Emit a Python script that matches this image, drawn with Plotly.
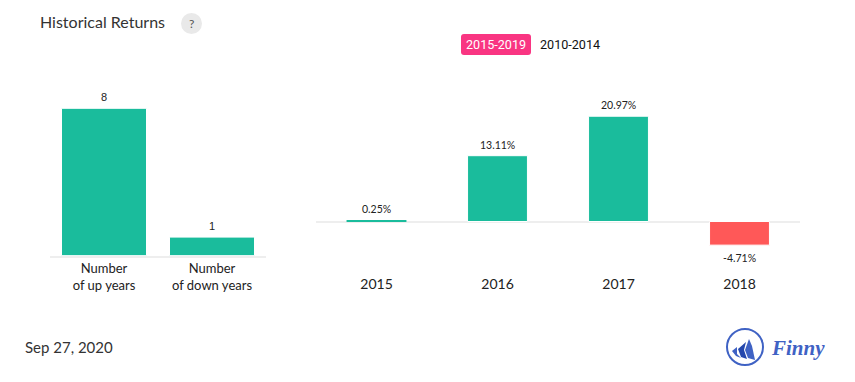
import plotly.graph_objects as go

W, H = 855, 382

count_labels = ["Number<br>of up years", "Number<br>of down years"]
count_values = [8, 1]
count_text = ["8", "1"]
years = ["2015", "2016", "2017", "2018"]
returns = [0.25, 13.11, 20.97, -4.71]
return_text = ["0.25%", "13.11%", "20.97%", "-4.71%"]

GREEN, RED, PINK, BLUE = "#1abc9c", "#ff5858", "#f93582", "#3f62c4"


def X(p):
    return p / W


def Y(p):
    return 1 - p / H


def path(points):
    return "M " + " L ".join(f"{X(a):.5f},{Y(b):.5f}" for a, b in points) + " Z"


def colors(vals):
    return [GREEN if v >= 0 else RED for v in vals]


def bar_note(x, v, t, xref, yref, family):
    return dict(x=x, y=v, xref=xref, yref=yref, text=t, showarrow=False, xanchor="center", yanchor="middle",
                yshift=11 if v >= 0 else -13, font=dict(family=family, size=10.5 if family == "Lato" else 11, color="#222"))


fig = go.Figure()
fig.add_bar(x=count_labels, y=count_values, xaxis="x", yaxis="y",
            marker=dict(color=colors(count_values), line=dict(width=1, color="#fff")),
            cliponaxis=False, width=0.787, hoverinfo="skip")
fig.add_bar(x=years, y=returns, xaxis="x2", yaxis="y2",
            marker=dict(color=colors(returns), line=dict(width=[0, 1, 1, 1], color="#fff")),
            cliponaxis=False, width=0.495, hoverinfo="skip")

shapes = [
    dict(type="circle", xref="paper", yref="paper", x0=X(181), x1=X(202), y0=Y(34), y1=Y(13),
         fillcolor="#e9e9e9", line=dict(width=0)),
    dict(type="path", xref="paper", yref="paper",
         path=f"M {X(464):.5f},{Y(34):.5f} L {X(528):.5f},{Y(34):.5f} Q {X(531):.5f},{Y(34):.5f} {X(531):.5f},{Y(37):.5f} "
              f"L {X(531):.5f},{Y(52):.5f} Q {X(531):.5f},{Y(55):.5f} {X(528):.5f},{Y(55):.5f} "
              f"L {X(464):.5f},{Y(55):.5f} Q {X(461):.5f},{Y(55):.5f} {X(461):.5f},{Y(52):.5f} "
              f"L {X(461):.5f},{Y(37):.5f} Q {X(461):.5f},{Y(34):.5f} {X(464):.5f},{Y(34):.5f} Z",
         fillcolor=PINK, line=dict(width=0)),
    dict(type="circle", xref="paper", yref="paper", x0=X(727), x1=X(763), y0=Y(365), y1=Y(329),
         line=dict(color=BLUE, width=2)),
    dict(type="path", xref="paper", yref="paper", path=path([(732, 351), (737, 347), (737, 354), (741, 358), (736, 356)]),
         fillcolor=BLUE, line=dict(width=0)),
    dict(type="path", xref="paper", yref="paper", path=path([(738, 349), (746, 342), (744, 350), (747, 359), (741, 357)]),
         fillcolor="#2447ad", line=dict(width=0)),
    dict(type="path", xref="paper", yref="paper", path=path([(749, 339), (752, 346), (755, 360), (748, 358), (745, 350)]),
         fillcolor=BLUE, line=dict(width=0)),
]


def note(x, y, text, size, color="#333", family="Lato", anchor="left", **kw):
    return dict(xref="paper", yref="paper", x=X(x), y=Y(y), text=text, showarrow=False,
                xanchor=anchor, yanchor="middle", font=dict(family=family, size=size, color=color), **kw)


annotations = [
    note(38, 21.5, "Historical Returns", 16),
    note(191.5, 23.5, "?", 12, color="#555", anchor="center"),
    note(496, 45, "2015-2019", 12.6, color="#fff", family="Roboto", anchor="center"),
    note(570, 45, "2010-2014", 12.6, color="#111", family="Roboto", anchor="center"),
    note(23, 347, "Sep 27, 2020", 15),
    note(769, 348, "<b><i>Finny</i></b>", 21, color=BLUE, family="Liberation Serif"),
]
annotations += [bar_note(a, v, t, "x", "y", "Liberation Sans") for a, v, t in zip(count_labels, count_values, count_text)]
annotations += [bar_note(i, v, t, "x2", "y2", "Lato") for i, (v, t) in enumerate(zip(returns, return_text))]

fig.update_layout(
    width=W, height=H, margin=dict(l=0, r=0, t=0, b=0), autosize=False,
    paper_bgcolor="#fff", plot_bgcolor="#fff", showlegend=False, shapes=shapes, annotations=annotations,
    xaxis=dict(domain=[X(50), X(266)], anchor="y", range=[-0.5, 1.5], showgrid=False, ticks="",
               showline=True, linecolor="#eeeeee", linewidth=2, layer="below traces",
               tickfont=dict(family="Lato", size=13, color="#222")),
    yaxis=dict(domain=[Y(255.5), Y(71.5)], range=[0, 10], visible=False),
    xaxis2=dict(domain=[X(316), X(800)], anchor="y2", type="category", range=[-0.5, 3.5], showgrid=False, ticks="",
                showline=False, ticklabelstandoff=2, tickfont=dict(family="Lato", size=14, color="#222")),
    yaxis2=dict(domain=[Y(271.7), Y(96)], range=[-10, 25], showgrid=False, showticklabels=False, ticks="",
                showline=False, zeroline=True, zerolinecolor="#eeeeee", zerolinewidth=2),
)

fig.write_html("out.html", config={"displayModeBar": False},
               post_script="document.body.style.margin='0';")
